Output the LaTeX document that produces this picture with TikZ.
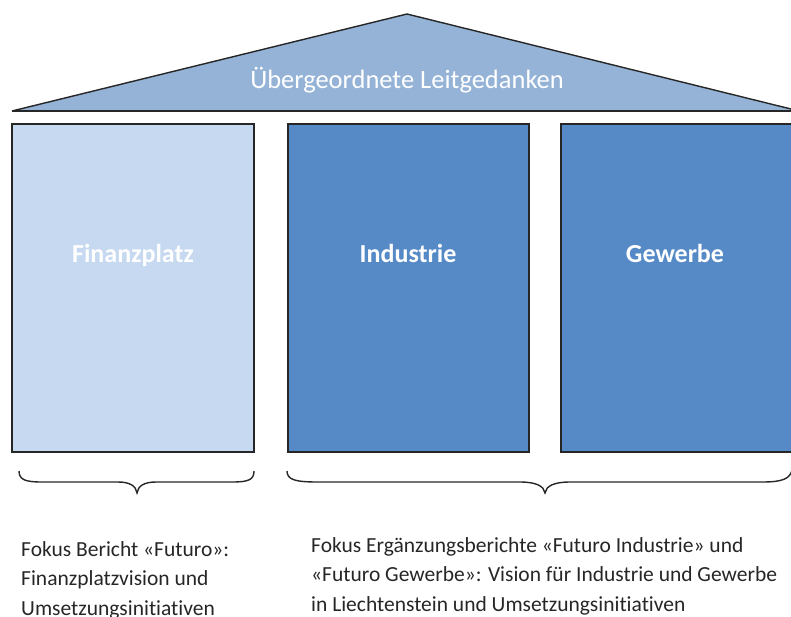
\documentclass[tikz,border=0pt]{standalone}
\usepackage{fontspec}
\setmainfont{Carlito}[Ligatures={NoCommon}]
\definecolor{roofblue}{HTML}{95B3D7}
\definecolor{lightblue}{HTML}{C6D9F0}
\definecolor{midblue}{HTML}{558AC6}
\definecolor{linegray}{HTML}{262626}
\definecolor{textgray}{HTML}{262626}
\tikzset{
  pillar/.style={draw=linegray, line width=1.6pt},
  boxlabel/.style={text=white, font=\fontsize{26}{30}\selectfont\bfseries, anchor=base},
  brace/.style={draw=linegray, line width=1.4pt},
  caption/.style={text=textgray, font=\fontsize{21.5}{30}\selectfont, anchor=base west, inner sep=0pt},
}
\begin{document}
\begin{tikzpicture}[x=1pt,y=-1pt]
\useasboundingbox (0,0) rectangle (791,616);
% roof
\coordinate (rl) at (12,111);
\coordinate (rt) at (407,14);
\coordinate (rr) at (791,109);
\fill[roofblue] (rl) -- (rt) -- (rr) -- (791,111) -- cycle;
\draw[linegray, line width=1.4pt] (rl) -- (rt) -- (rr);
\draw[linegray, line width=1.4pt] (rl) -- (791,111);
\node[text=white, font=\fontsize{26.5}{30}\selectfont, anchor=base] (roof) at (407,88) {Übergeordnete Leitgedanken};
% pillars
\filldraw[pillar, fill=lightblue] (12,124) rectangle (254,452);
\filldraw[pillar, fill=midblue] (288,124) rectangle (529,452);
\filldraw[pillar, fill=midblue] (561,124) rectangle (800,452);
\node[boxlabel] (fin) at (133,262) {Finanzplatz};
\node[boxlabel] (ind) at (408,262) {Industrie};
\node[boxlabel] (gew) at (675,262) {Gewerbe};
% braces
\draw[brace] (19,471) .. controls (19,480) and (26,482) .. (42,482)
  -- (118,482) .. controls (130,482) and (136,486) .. (137,493)
  .. controls (138,486) and (144,482) .. (156,482)
  -- (232,482) .. controls (248,482) and (254,480) .. (254,471);
\draw[brace] (287,471) .. controls (287,480) and (296,482) .. (318,482)
  -- (520,482) .. controls (536,482) and (544,486) .. (545,493)
  .. controls (546,486) and (554,482) .. (570,482)
  -- (762,482) .. controls (782,482) and (790,479) .. (792,470);
% captions
\node[caption] (capl1) at (21,556) {Fokus Bericht «Futuro»:};
\node[caption] (capl2) at (21,585.5) {Finanzplatzvision und};
\node[caption] (capl3) at (21,615) {Umsetzungsinitiativen};
\node[caption] (capr1) at (311,552) {Fokus Ergänzungsberichte «Futuro Industrie» und};
\node[caption] (capr2) at (311,581.5) {«Futuro Gewerbe»: Vision für Industrie und Gewerbe};
\node[caption] (capr3) at (311,611) {in Liechtenstein und Umsetzungsinitiativen};
\end{tikzpicture}
\end{document}
